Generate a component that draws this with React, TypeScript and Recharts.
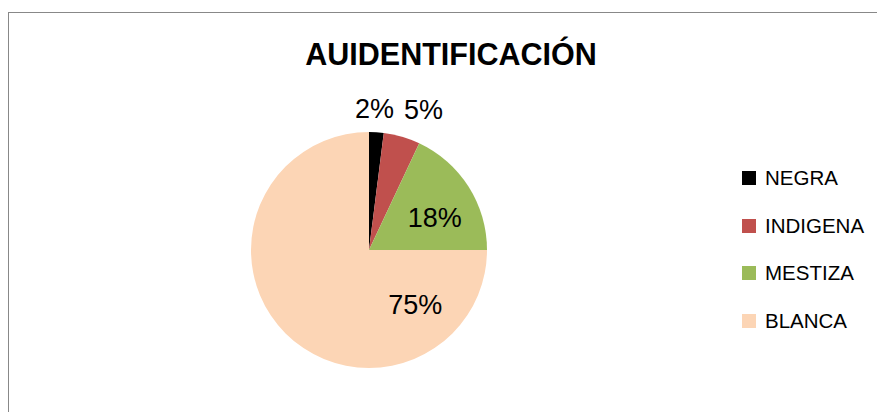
import React from "react";
import { PieChart, Pie, Cell, Legend } from "recharts";

const categories = ["NEGRA", "INDIGENA", "MESTIZA", "BLANCA"];
const values = [2, 5, 18, 75];
const colors = ["#000000", "#C0504D", "#9BBB59", "#FCD5B5"];
const title = "AUIDENTIFICACIÓN";

// label placement: polar offset (degrees clockwise from 12 o'clock, radius in px)
const labelAngles = [2.2, 21.3, 64.3, 140.1];
const labelRadii = [141, 150, 73, 72];

const data = categories.map((name, i) => ({ name, value: values[i] }));

const FONT = "'Liberation Sans', Arial, sans-serif";

const renderLabel = (props: any) => {
  const { cx, cy, index, value } = props;
  const a = (labelAngles[index] * Math.PI) / 180;
  const r = labelRadii[index];
  const x = cx + r * Math.sin(a);
  const y = cy - r * Math.cos(a);
  return (
    <text
      x={x}
      y={y}
      textAnchor="middle"
      dominantBaseline="central"
      fontFamily={FONT}
      fontSize={27}
      fill="#000"
    >
      {value + "%"}
    </text>
  );
};

const renderLegend = (props: any) => {
  const { payload } = props;
  return (
    <div style={{ fontFamily: FONT, fontSize: 20.5, color: "#000" }}>
      {(payload || []).map((p: any, i: number) => (
        <div
          key={i}
          style={{ height: 47.7, display: "flex", alignItems: "center" }}
        >
          <div
            style={{
              width: 14,
              height: 14,
              background: colors[i],
              marginRight: 9,
            }}
          />
          <span>{categories[i]}</span>
        </div>
      ))}
    </div>
  );
};

export default function App() {
  return (
    <div
      style={{
        position: "relative",
        width: 877,
        height: 404,
        overflow: "hidden",
        background: "#fff",
      }}
    >
      <div
        style={{
          position: "absolute",
          left: 0,
          top: 4,
          width: 1000,
          height: 1000,
          borderLeft: "1px solid #888",
          borderTop: "1px solid #888",
        }}
      />
      <div
        style={{
          position: "absolute",
          left: 443,
          top: 31.4,
          transform: "translateX(-50%)",
          whiteSpace: "nowrap",
          fontFamily: FONT,
          fontWeight: "bold",
          fontSize: 30.5,
          lineHeight: "30px",
          color: "#000",
        }}
      >
        {title}
      </div>
      <div style={{ position: "absolute", left: 0, top: 0 }}>
        <PieChart
          width={877}
          height={404}
          margin={{ top: 0, right: 0, bottom: 0, left: 0 }}
        >
          <Pie
            data={data}
            dataKey="value"
            nameKey="name"
            cx={361}
            cy={242}
            outerRadius={118}
            startAngle={90}
            endAngle={-270}
            stroke="none"
            isAnimationActive={false}
            label={renderLabel}
            labelLine={false}
          >
            {data.map((d, i) => (
              <Cell key={d.name} fill={colors[i]} />
            ))}
          </Pie>
          <Legend
            layout="vertical"
            verticalAlign="top"
            align="right"
            content={renderLegend}
            wrapperStyle={{ left: 734, top: 146, width: 140 }}
          />
        </PieChart>
      </div>
    </div>
  );
}
